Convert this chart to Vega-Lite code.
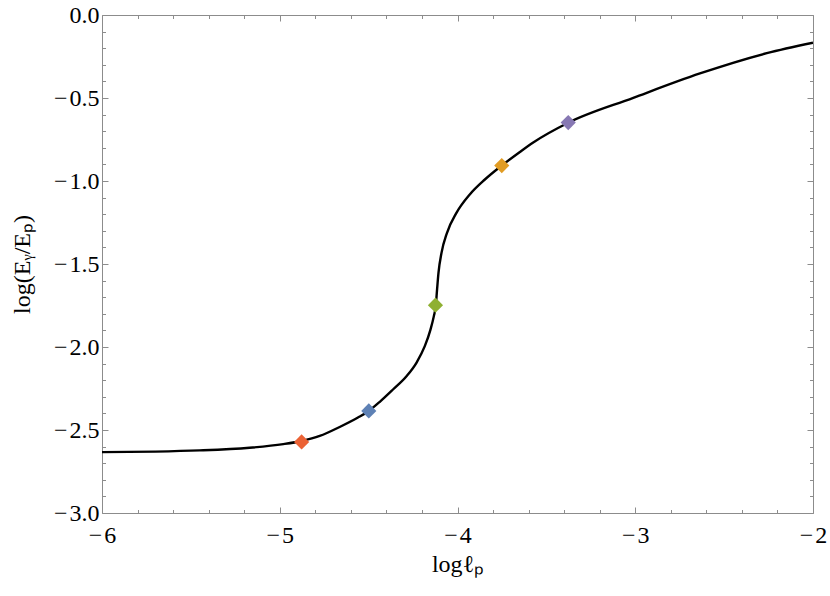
{
  "$schema": "https://vega.github.io/schema/vega-lite/v6.json",
  "width": 711,
  "height": 498,
  "autosize": "none",
  "padding": {"left": 102, "top": 15, "right": 17, "bottom": 83},
  "background": "white",
  "config": {
    "view": {"stroke": null},
    "font": "Liberation Serif",
    "axis": {
      "grid": false,
      "domainColor": "#8c8c8c",
      "tickColor": "#8c8c8c",
      "domainWidth": 1,
      "tickWidth": 1
    }
  },
  "datasets": {
    "curve": [
      {"x": -6.0, "y": -2.633},
      {"x": -5.7, "y": -2.630},
      {"x": -5.45, "y": -2.623},
      {"x": -5.17, "y": -2.607},
      {"x": -4.98, "y": -2.585},
      {"x": -4.877, "y": -2.566},
      {"x": -4.775, "y": -2.536},
      {"x": -4.663, "y": -2.482},
      {"x": -4.56, "y": -2.425},
      {"x": -4.499, "y": -2.385},
      {"x": -4.437, "y": -2.330},
      {"x": -4.363, "y": -2.256},
      {"x": -4.287, "y": -2.176},
      {"x": -4.231, "y": -2.095},
      {"x": -4.184, "y": -1.995},
      {"x": -4.152, "y": -1.895},
      {"x": -4.133, "y": -1.814},
      {"x": -4.122, "y": -1.750},
      {"x": -4.115, "y": -1.654},
      {"x": -4.107, "y": -1.553},
      {"x": -4.090, "y": -1.433},
      {"x": -4.059, "y": -1.312},
      {"x": -4.006, "y": -1.192},
      {"x": -3.931, "y": -1.081},
      {"x": -3.846, "y": -0.991},
      {"x": -3.751, "y": -0.907},
      {"x": -3.649, "y": -0.825},
      {"x": -3.574, "y": -0.768},
      {"x": -3.377, "y": -0.649},
      {"x": -3.011, "y": -0.499},
      {"x": -2.636, "y": -0.352},
      {"x": -2.26, "y": -0.230},
      {"x": -2.0, "y": -0.167}
    ],
    "markers": [
      {"x": -4.877, "y": -2.572, "k": "a"},
      {"x": -4.499, "y": -2.385, "k": "b"},
      {"x": -4.124, "y": -1.748, "k": "c"},
      {"x": -3.751, "y": -0.907, "k": "d"},
      {"x": -3.377, "y": -0.648, "k": "e"}
    ]
  },
  "resolve": {"axis": {"x": "independent", "y": "independent"}},
  "layer": [
    {
      "data": {"name": "curve"},
      "mark": {"type": "line", "color": "black", "strokeWidth": 2.4, "interpolate": "monotone", "clip": true},
      "encoding": {
        "x": {"field": "x", "type": "quantitative", "scale": {"domain": [-6, -2], "nice": false, "zero": false},
          "axis": {"orient": "bottom", "title": "logℓₚ", "values": [-6, -5, -4, -3, -2], "format": "d", "labelExpr": "replace(datum.label, '−', '−\u200a')", "tickSize": -6, "labelPadding": 16, "titlePadding": 5, "labelFlush": false,
            "labelFont": "Liberation Serif", "labelFontSize": 24, "labelColor": "black", "titleFont": "Liberation Serif", "titleFontSize": 24, "titleFontWeight": "normal", "titleColor": "black"}},
        "y": {"field": "y", "type": "quantitative", "scale": {"domain": [-3, 0], "nice": false, "zero": false},
          "axis": {"orient": "left", "title": "log(Eᵧ/Eₚ)", "values": [-3, -2.5, -2, -1.5, -1, -0.5, 0], "format": ".1f", "labelExpr": "replace(datum.label, '−', '−\u200a')", "tickSize": -6, "labelPadding": 9, "titlePadding": 19, "labelFlush": false,
            "labelFont": "Liberation Serif", "labelFontSize": 24, "labelColor": "black", "titleFont": "Liberation Serif", "titleFontSize": 24, "titleFontWeight": "normal", "titleColor": "black"}}
      }
    },
    {
      "data": {"name": "curve"},
      "mark": {"type": "line", "opacity": 0},
      "encoding": {
        "x": {"field": "x", "type": "quantitative",
          "axis": {"orient": "top", "title": null, "labels": false, "values": [-6, -5, -4, -3, -2], "tickSize": -6}},
        "y": {"field": "y", "type": "quantitative",
          "axis": {"orient": "right", "title": null, "labels": false, "values": [-3, -2.5, -2, -1.5, -1, -0.5, 0], "tickSize": -6}}
      }
    },
    {
      "data": {"name": "curve"},
      "mark": {"type": "line", "opacity": 0},
      "encoding": {
        "x": {"field": "x", "type": "quantitative",
          "axis": {"orient": "bottom", "title": null, "labels": false, "domain": false, "values": [-5.8, -5.6, -5.4, -5.2, -4.8, -4.6, -4.4, -4.2, -3.8, -3.6, -3.4, -3.2, -2.8, -2.6, -2.4, -2.2], "tickSize": -3.5}},
        "y": {"field": "y", "type": "quantitative",
          "axis": {"orient": "left", "title": null, "labels": false, "domain": false, "values": [-2.9, -2.8, -2.7, -2.6, -2.4, -2.3, -2.2, -2.1, -1.9, -1.8, -1.7, -1.6, -1.4, -1.3, -1.2, -1.1, -0.9, -0.8, -0.7, -0.6, -0.4, -0.3, -0.2, -0.1], "tickSize": -3.5}}
      }
    },
    {
      "data": {"name": "curve"},
      "mark": {"type": "line", "opacity": 0},
      "encoding": {
        "x": {"field": "x", "type": "quantitative",
          "axis": {"orient": "top", "title": null, "labels": false, "domain": false, "values": [-5.8, -5.6, -5.4, -5.2, -4.8, -4.6, -4.4, -4.2, -3.8, -3.6, -3.4, -3.2, -2.8, -2.6, -2.4, -2.2], "tickSize": -3.5}},
        "y": {"field": "y", "type": "quantitative",
          "axis": {"orient": "right", "title": null, "labels": false, "domain": false, "values": [-2.9, -2.8, -2.7, -2.6, -2.4, -2.3, -2.2, -2.1, -1.9, -1.8, -1.7, -1.6, -1.4, -1.3, -1.2, -1.1, -0.9, -0.8, -0.7, -0.6, -0.4, -0.3, -0.2, -0.1], "tickSize": -3.5}}
      }
    },
    {
      "data": {"name": "markers"},
      "mark": {"type": "point", "shape": "diamond", "filled": true, "size": 230, "opacity": 1, "strokeWidth": 0},
      "encoding": {
        "x": {"field": "x", "type": "quantitative", "axis": null},
        "y": {"field": "y", "type": "quantitative", "axis": null},
        "color": {"field": "k", "type": "nominal", "legend": null,
          "scale": {"domain": ["a", "b", "c", "d", "e"], "range": ["#EB6235", "#5E81B5", "#8FB032", "#E19C24", "#8778B3"]}}
      }
    }
  ]
}
